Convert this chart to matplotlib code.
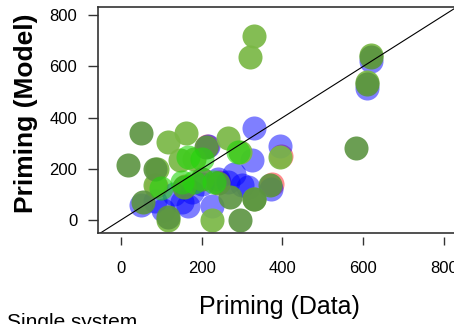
import matplotlib.pyplot as plt

plt.rcParams["font.family"] = ["Liberation Sans", "DejaVu Sans"]

# model predictions vs. data, one list pair per colour layer
red_x = [87, 212, 243, 374, 397, 158]
red_y = [134, 289, 150, 139, 249, 133]

blue_x = [50, 85, 105, 130, 150, 165, 175, 200, 215, 225, 240, 265, 280, 300, 315, 330, 325, 372, 395, 610, 620]
blue_y = [60, 75, 40, 100, 70, 55, 110, 140, 290, 55, 160, 150, 180, 135, 130, 360, 235, 120, 290, 515, 620]

light_x = [330, 320, 160, 117, 265, 295, 145, 225, 117, 85, 330, 395, 610, 620, 90, 180]
light_y = [720, 635, 340, 305, 320, 265, 235, 0, 0, 137, 80, 245, 540, 645, 200, 240]

dark_x = [50, 18, 583, 295, 210, 85, 55, 117, 270, 330, 370, 610, 620, 155, 240, 200]
dark_y = [340, 215, 280, 0, 285, 200, 70, 10, 90, 80, 135, 530, 635, 130, 145, 160]

bright_x = [165, 230, 150, 290, 100, 200, 180]
bright_y = [245, 150, 150, 265, 125, 240, 150]

ticks = [0, 200, 400, 600, 800]

fig = plt.figure(figsize=(4.54, 3.24), dpi=100)
ax = fig.add_axes([0.2159, 0.2809, 0.834, 0.6975])

size = 300
ax.scatter(red_x, red_y, s=size, color="#FF0000", alpha=0.45, lw=0)
ax.scatter(blue_x, blue_y, s=size, color="#0000FF", alpha=0.5, lw=0)
ax.scatter(light_x, light_y, s=size, color="#7AB845", alpha=0.92, lw=0)
ax.scatter(dark_x, dark_y, s=size, color="#5B9440", alpha=0.9, lw=0)
ax.scatter(bright_x, bright_y, s=size, color="#22D60A", alpha=0.6, lw=0)

ax.plot([-100, 1000], [-100, 1000], color="black", lw=0.8)

ax.set_xlim(-57, 881)
ax.set_ylim(-51, 832)
ax.set_xticks(ticks)
ax.set_yticks(ticks)

for s in ax.spines.values():
    s.set_color("#333333")
    s.set_linewidth(1.2)
ax.spines["bottom"].set_position(("outward", 3))
ax.spines["bottom"].set_color("none")
ax.plot([0, 1], [0, 0], transform=ax.transAxes, color="#333333", lw=1.2, clip_on=False)

ax.tick_params(axis="x", length=6, width=1, color="#333333", pad=11, labelsize=12)
ax.tick_params(axis="y", length=7, width=1, color="#333333", pad=8, labelsize=12)

fig.text(279 / 454, 1 - 307 / 324, "Priming (Data)", fontsize=18, ha="center", va="center")
fig.text(26 / 454, 1 - 113 / 324, "Priming (Model)", fontsize=19, fontweight="bold",
         rotation=90, ha="center", va="center")
fig.text(7 / 454, 1 - 313 / 324, "Single system", fontsize=15, ha="left", va="top")

fig.savefig("out.png", dpi=100)
